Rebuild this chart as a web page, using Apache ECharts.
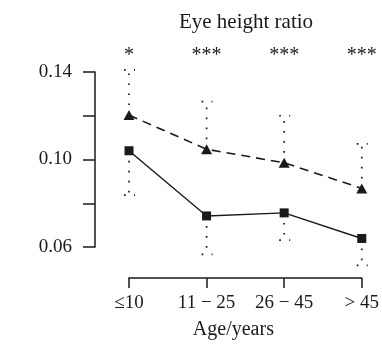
<!DOCTYPE html>
<html><head><meta charset="utf-8">
<script src="https://cdn.jsdelivr.net/npm/echarts@6/dist/echarts.min.js"></script>
<style>html,body{margin:0;padding:0;background:#fff}#c{width:382px;height:347px}</style>
</head><body><div id="c"></div>
<script>
const categories = ['≤10', '11 − 25', '26 − 45', '> 45'];
const significance = ['*', '***', '***', '***'];
const triangleValues = [0.1203, 0.1047, 0.0985, 0.0868];
const triangleUpper = [0.141, 0.1265, 0.120, 0.1071];
const squareValues = [0.104, 0.0742, 0.0756, 0.0639];
const squareLower = [0.0837, 0.0566, 0.0631, 0.0516];
const yTickLabels = { '0.14': '0.14', '0.1': '0.10', '0.06': '0.06' };

const FONT = 'Liberation Serif';
const ink = '#1a1a1a';
const chart = echarts.init(document.getElementById('c'), null, { renderer: 'canvas' });

function errRender(params, api) {
  const x = api.value(0), v = api.value(1), e = api.value(2);
  const p0 = api.coord([x, v]);
  const p1 = api.coord([x, e]);
  const style = { stroke: ink, lineWidth: 1.7, lineDash: [1.7, 8.3], fill: null };
  return {
    type: 'group',
    children: [
      { type: 'line', shape: { x1: p0[0], y1: p0[1], x2: p1[0], y2: p1[1] }, style: style },
      { type: 'line', shape: { x1: p1[0] - 5, y1: p1[1], x2: p1[0] + 6, y2: p1[1] }, style: { stroke: ink, lineWidth: 1.7, lineDash: [1.7, 8.3], fill: null } }
    ]
  };
}

chart.setOption({
  animation: false,
  title: {
    text: 'Eye height ratio', left: 241, top: 7, textAlign: 'center',
    textStyle: { fontFamily: FONT, fontSize: 21, fontWeight: 'normal', color: ink }
  },
  grid: { left: 129, right: 20, top: 72, bottom: 100 },
  xAxis: [{
    type: 'category', data: categories, boundaryGap: false, offset: 31,
    axisLine: { lineStyle: { color: ink, width: 1.5 } },
    axisTick: { show: true, inside: false, length: 10, lineStyle: { color: ink, width: 1.5 } },
    axisLabel: { margin: 16, fontFamily: FONT, fontSize: 19, color: ink },
    name: 'Age/years', nameLocation: 'middle', nameGap: 42,
    nameTextStyle: { fontFamily: FONT, fontSize: 20, color: ink, padding: [0, 24, 0, 0] },
    splitLine: { show: false }
  }, {
    type: 'category', data: significance, boundaryGap: false, position: 'top',
    axisLine: { show: false }, axisTick: { show: false },
    axisLabel: { margin: 6, fontFamily: FONT, fontSize: 20, color: ink },
    splitLine: { show: false }
  }],
  yAxis: {
    type: 'value', min: 0.06, max: 0.14, interval: 0.02, offset: 34,
    axisLine: { show: true, lineStyle: { color: ink, width: 1.5 } },
    axisTick: { show: true, inside: false, length: 12, lineStyle: { color: ink, width: 1.5 } },
    axisLabel: {
      margin: 23, fontFamily: FONT, fontSize: 19, color: ink,
      formatter: v => yTickLabels[String(Math.round(v * 100) / 100)] || ''
    },
    splitLine: { show: false }
  },
  series: [
    {
      type: 'custom', renderItem: errRender, clip: false, z: 1,
      data: categories.map((c, i) => [i, triangleValues[i], triangleUpper[i]])
    },
    {
      type: 'custom', renderItem: errRender, clip: false, z: 1,
      data: categories.map((c, i) => [i, squareValues[i], squareLower[i]])
    },
    {
      type: 'line', data: triangleValues, symbol: 'triangle', symbolSize: [11, 10],
      itemStyle: { color: ink }, lineStyle: { color: ink, width: 1.6, type: [9, 6] }, z: 3
    },
    {
      type: 'line', data: squareValues, symbol: 'rect', symbolSize: 9,
      itemStyle: { color: ink }, lineStyle: { color: ink, width: 1.4 }, z: 3
    }
  ]
});
</script></body></html>
